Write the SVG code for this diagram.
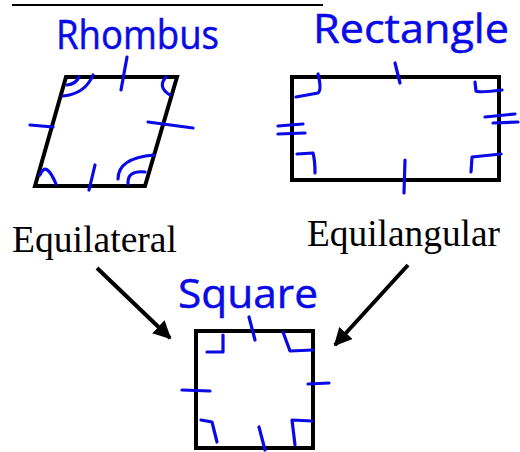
<svg xmlns="http://www.w3.org/2000/svg" width="520" height="452" viewBox="0 0 520 452">
<style>
.shape{fill:none;stroke:#000;stroke-width:4;stroke-linejoin:miter}
.mark{fill:none;stroke:#0a0ae6;stroke-width:3.2;stroke-linecap:round;stroke-linejoin:round}
.hand{font-family:"Open Sans","DejaVu Sans",sans-serif;fill:#0a0ae6;stroke:#0a0ae6;stroke-width:0.5;font-size:40px}
.print{font-family:"Liberation Serif","Times New Roman",serif;fill:#000;font-size:38px}
.conn{stroke:#000;stroke-width:4;fill:none}
</style>
<defs>
<marker id="ah" viewBox="0 0 10 10" refX="9" refY="5" markerWidth="4.5" markerHeight="4.5" orient="auto" markerUnits="strokeWidth">
<path d="M0,0 L10,5 L0,10 z" fill="#000"/>
</marker>
</defs>
<rect width="520" height="452" fill="#fff"/>
<line x1="12" y1="5" x2="323" y2="5" stroke="#000" stroke-width="2"/>

<g id="rhombus">
<polygon class="shape" points="66,77 177,77 145,186 35,186"/>
<path class="mark" d="M127,57 L121,90 M30,125 L53,127 M148,122 L193,128 M95,165 L89,190"/>
<path class="mark" d="M63,96 Q85,94 93,75 M67,85 Q76,84 79,77"/>
<path class="mark" d="M166,77 Q157,87 170,95"/>
<path class="mark" d="M40,175 Q46,160 56,184"/>
<path class="mark" d="M118,179 Q118,158 154,155 M128,184 Q127,170 145,172"/>
<text class="hand" x="56" y="49" textLength="163" lengthAdjust="spacingAndGlyphs">Rhombus</text>
</g>

<g id="rectangle">
<rect class="shape" x="292" y="77" width="207" height="103"/>
<path class="mark" d="M395,63 L400,83 M405,160 L404,193"/>
<path class="mark" d="M278,126 L303,124 M278,134 L305,133"/>
<path class="mark" d="M485,117 L515,114 M493,123 L518,122"/>
<path class="mark" d="M318,74 Q322,90 318,93 L296,97"/>
<path class="mark" d="M475,82 L476,91 Q478,93 502,90"/>
<path class="mark" d="M297,154 L313,153 Q315,160 315,173"/>
<path class="mark" d="M501,154 L472,157 L471,172"/>
<text class="hand" x="313" y="43" textLength="196" lengthAdjust="spacingAndGlyphs">Rectangle</text>
</g>

<g id="square">
<rect class="shape" x="196" y="331" width="117" height="117"/>
<path class="mark" d="M249,317 L255,340 M259,427 L265,450 M182,390 L210,391 M308,384 L329,383"/>
<path class="mark" d="M223,335 L223,352 L207,352"/>
<path class="mark" d="M283,332 L290,351 L313,350"/>
<path class="mark" d="M201,420 L212,422 L217,442"/>
<path class="mark" d="M312,421 L292,420 L295,445"/>
<text class="hand" x="178" y="308" textLength="140" lengthAdjust="spacingAndGlyphs">Square</text>
</g>

<g id="label-equilateral">
<text class="print" x="12" y="252" textLength="165" lengthAdjust="spacingAndGlyphs">Equilateral</text>
</g>
<g id="label-equilangular">
<text class="print" x="307" y="246" textLength="193" lengthAdjust="spacingAndGlyphs">Equilangular</text>
</g>

<g id="connectors">
<line class="conn" x1="97" y1="268" x2="170" y2="338" marker-end="url(#ah)"/>
<line class="conn" x1="408" y1="265" x2="335" y2="345" marker-end="url(#ah)"/>
</g>
</svg>
